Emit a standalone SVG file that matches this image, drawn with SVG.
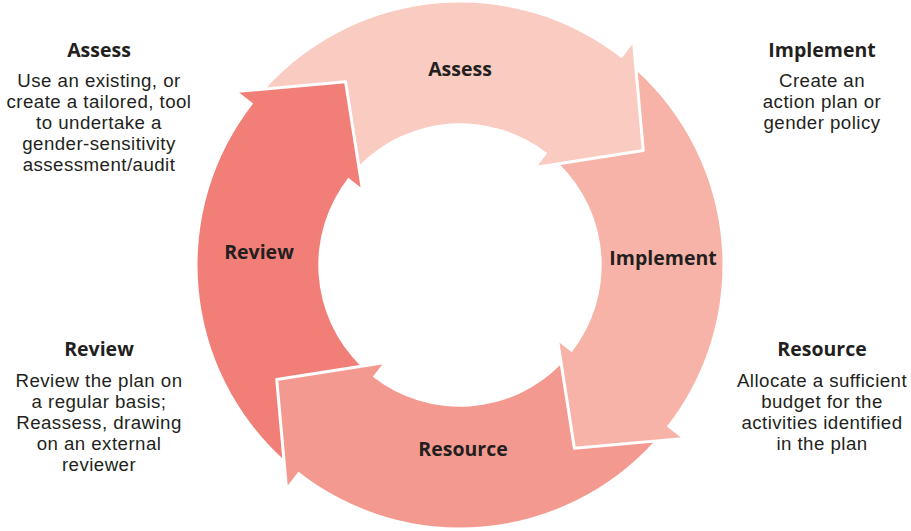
<svg xmlns="http://www.w3.org/2000/svg" width="911" height="531" viewBox="0 0 911 531">
<style>
.lbl{font-family:"Open Sans","Noto Sans","Liberation Sans",sans-serif;font-weight:700;font-size:19.5px;fill:#231f20;text-anchor:middle}
.body{font-family:"Liberation Sans",Arial,sans-serif;font-weight:400;font-size:18.7px;letter-spacing:0.45px;fill:#231f20;text-anchor:middle}
.sep{fill:none;stroke:#ffffff;stroke-width:3;stroke-linejoin:round;stroke-linecap:round}
</style>
<defs>
<path id="seg" d="M265.32,88.92 A262.5,262.5 0 0 1 621.61,58.15 L633.62,42.78 L643.29,150.59 L536.34,167.29 L547.24,153.34 A141.7,141.7 0 0 0 358.73,165.88 L345.59,81.71 Z"/>
<polyline id="edge" points="633.62,42.78 643.29,150.59 536.34,167.29"/>
</defs>
<rect width="911" height="531" fill="#ffffff"/>
<g id="assess">
<use href="#seg" fill="#FACBC1"/>
<text class="lbl" x="460" y="76">Assess</text>
</g>
<g id="implement">
<use href="#seg" fill="#F7B3A8" transform="rotate(90 460 265)"/>
<text class="lbl" x="663" y="265">Implement</text>
</g>
<g id="resource">
<use href="#seg" fill="#F4998F" transform="rotate(180 460 265)"/>
<text class="lbl" x="463" y="456">Resource</text>
</g>
<g id="review">
<use href="#seg" fill="#F27E78" transform="rotate(270 460 265)"/>
<text class="lbl" x="259" y="259">Review</text>
</g>
<g id="connectors">
<use href="#edge" class="sep"/>
<use href="#edge" class="sep" transform="rotate(90 460 265)"/>
<use href="#edge" class="sep" transform="rotate(180 460 265)"/>
<use href="#edge" class="sep" transform="rotate(270 460 265)"/>
</g>
<g id="assess-note">
<text class="lbl" x="99" y="57">Assess</text>
<text class="body" x="99" y="87">Use an existing, or</text>
<text class="body" x="99" y="108">create a tailored, tool</text>
<text class="body" x="99" y="129">to undertake a</text>
<text class="body" x="99" y="150">gender-sensitivity</text>
<text class="body" x="99" y="171">assessment/audit</text>
</g>
<g id="implement-note">
<text class="lbl" x="822" y="57">Implement</text>
<text class="body" x="822" y="87">Create an</text>
<text class="body" x="822" y="108">action plan or</text>
<text class="body" x="822" y="129">gender policy</text>
</g>
<g id="resource-note">
<text class="lbl" x="822" y="356">Resource</text>
<text class="body" x="822" y="387">Allocate a sufficient</text>
<text class="body" x="822" y="408">budget for the</text>
<text class="body" x="822" y="429">activities identified</text>
<text class="body" x="822" y="450">in the plan</text>
</g>
<g id="review-note">
<text class="lbl" x="99" y="356">Review</text>
<text class="body" x="99" y="387">Review the plan on</text>
<text class="body" x="99" y="408">a regular basis;</text>
<text class="body" x="99" y="429">Reassess, drawing</text>
<text class="body" x="99" y="450">on an external</text>
<text class="body" x="99" y="471">reviewer</text>
</g>
</svg>
